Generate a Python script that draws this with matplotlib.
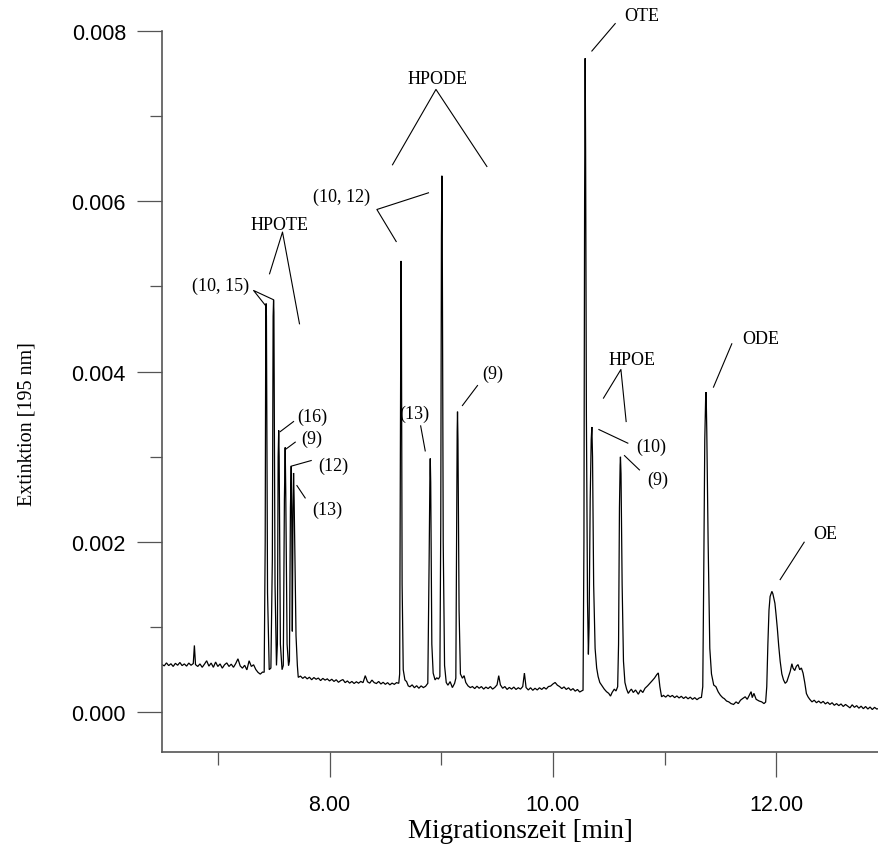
import matplotlib
matplotlib.use("Agg")
import matplotlib.pyplot as plt
from matplotlib.ticker import FormatStrFormatter

# ---------------------------------------------------------------------------
# Electropherogram trace: (migration time [min], extinction at 195 nm)
# ---------------------------------------------------------------------------
baseline_start = [
    (6.500, 0.000560), (6.520, 0.000545), (6.540, 0.000580), (6.560, 0.000548),
    (6.580, 0.000570), (6.600, 0.000538), (6.620, 0.000575), (6.640, 0.000552),
    (6.660, 0.000585), (6.680, 0.000548), (6.700, 0.000568), (6.720, 0.000542),
    (6.740, 0.000578), (6.760, 0.000552), (6.780, 0.000572), (6.790, 0.000785),
    (6.800, 0.000560), (6.820, 0.000538), (6.840, 0.000568), (6.860, 0.000528),
    (6.880, 0.000565), (6.900, 0.000605), (6.920, 0.000542), (6.940, 0.000578),
    (6.960, 0.000528), (6.980, 0.000590), (7.000, 0.000538), (7.020, 0.000568),
    (7.040, 0.000518), (7.060, 0.000558), (7.080, 0.000580), (7.100, 0.000538),
    (7.120, 0.000565), (7.140, 0.000528), (7.160, 0.000572), (7.180, 0.000628),
    (7.200, 0.000545), (7.220, 0.000518), (7.240, 0.000552), (7.260, 0.000498),
    (7.280, 0.000605), (7.300, 0.000538), (7.320, 0.000558), (7.340, 0.000502),
    (7.360, 0.000468), (7.380, 0.000448), (7.400, 0.000472),
]

hpote_group = [
    (7.415, 0.000470), (7.424, 0.002000), (7.429, 0.004600), (7.432, 0.004800),
    (7.435, 0.004650), (7.445, 0.001400), (7.460, 0.000500), (7.475, 0.000520),
    (7.488, 0.001800), (7.495, 0.004650), (7.499, 0.004840), (7.502, 0.004700),
    (7.512, 0.001500), (7.525, 0.000550), (7.533, 0.000800), (7.540, 0.003000),
    (7.545, 0.003310), (7.549, 0.003000), (7.560, 0.000800), (7.575, 0.000500),
    (7.586, 0.000550), (7.596, 0.002500), (7.603, 0.003110), (7.608, 0.002600),
    (7.620, 0.000800), (7.633, 0.000550), (7.641, 0.000600), (7.650, 0.002400),
    (7.657, 0.002890), (7.662, 0.002200), (7.667, 0.000950), (7.673, 0.002400),
    (7.678, 0.002810), (7.683, 0.002500), (7.700, 0.000900), (7.712, 0.000550),
    (7.720, 0.000410),
]

baseline_mid1 = [
    (7.740, 0.000425), (7.760, 0.000398), (7.780, 0.000418), (7.800, 0.000392),
    (7.820, 0.000412), (7.840, 0.000382), (7.860, 0.000408), (7.880, 0.000388),
    (7.900, 0.000402), (7.920, 0.000372), (7.940, 0.000398), (7.960, 0.000378),
    (7.980, 0.000392), (8.000, 0.000368), (8.020, 0.000388), (8.040, 0.000362),
    (8.060, 0.000382), (8.080, 0.000352), (8.100, 0.000372), (8.120, 0.000384),
    (8.140, 0.000348), (8.160, 0.000368), (8.180, 0.000342), (8.200, 0.000362),
    (8.220, 0.000338), (8.240, 0.000358), (8.260, 0.000342), (8.280, 0.000362),
    (8.300, 0.000348), (8.320, 0.000430), (8.340, 0.000358), (8.360, 0.000342),
    (8.380, 0.000378), (8.400, 0.000348), (8.420, 0.000338), (8.440, 0.000362),
    (8.460, 0.000332), (8.480, 0.000352), (8.500, 0.000328), (8.520, 0.000348),
    (8.540, 0.000322), (8.560, 0.000342), (8.580, 0.000328), (8.600, 0.000348),
    (8.620, 0.000340),
]

hpode_group = [
    (8.628, 0.000450), (8.634, 0.003000), (8.638, 0.005100), (8.640, 0.005300),
    (8.643, 0.005000), (8.650, 0.001500), (8.660, 0.000500), (8.675, 0.000380),
    (8.690, 0.000360), (8.705, 0.000310), (8.720, 0.000300), (8.740, 0.000322),
    (8.760, 0.000288), (8.780, 0.000312), (8.800, 0.000282), (8.820, 0.000310),
    (8.840, 0.000290), (8.860, 0.000305), (8.880, 0.000340), (8.892, 0.001800),
    (8.899, 0.002800), (8.902, 0.002980), (8.906, 0.002700), (8.916, 0.000800),
    (8.928, 0.000460), (8.945, 0.000380), (8.960, 0.000405), (8.975, 0.000390),
    (8.988, 0.000420), (8.996, 0.002200), (9.002, 0.005600), (9.006, 0.006300),
    (9.009, 0.005800), (9.018, 0.002000), (9.030, 0.000550), (9.045, 0.000350),
    (9.060, 0.000318), (9.080, 0.000360), (9.100, 0.000290), (9.120, 0.000340),
    (9.131, 0.000400), (9.138, 0.002000), (9.143, 0.003300), (9.146, 0.003530),
    (9.150, 0.003200), (9.160, 0.001200), (9.172, 0.000450), (9.190, 0.000400),
    (9.205, 0.000430), (9.220, 0.000350), (9.240, 0.000310), (9.260, 0.000290),
]

baseline_mid2 = [
    (9.280, 0.000302), (9.300, 0.000278), (9.320, 0.000306), (9.340, 0.000282),
    (9.360, 0.000302), (9.380, 0.000272), (9.400, 0.000296), (9.420, 0.000278),
    (9.440, 0.000302), (9.460, 0.000272), (9.480, 0.000292), (9.500, 0.000322),
    (9.515, 0.000430), (9.530, 0.000322), (9.550, 0.000282), (9.570, 0.000302),
    (9.590, 0.000268), (9.610, 0.000292), (9.630, 0.000272), (9.650, 0.000296),
    (9.670, 0.000268), (9.690, 0.000288), (9.710, 0.000272), (9.730, 0.000302),
    (9.745, 0.000460), (9.760, 0.000290), (9.780, 0.000262), (9.800, 0.000288),
    (9.820, 0.000258), (9.840, 0.000282), (9.860, 0.000262), (9.880, 0.000288),
    (9.900, 0.000268), (9.920, 0.000292), (9.940, 0.000272), (9.960, 0.000302),
    (9.980, 0.000308), (10.000, 0.000332), (10.020, 0.000350), (10.040, 0.000318),
    (10.060, 0.000302), (10.080, 0.000278), (10.100, 0.000298), (10.120, 0.000268),
    (10.140, 0.000288), (10.160, 0.000258), (10.180, 0.000278), (10.200, 0.000248),
    (10.220, 0.000268), (10.240, 0.000238), (10.260, 0.000252),
]

ote_hpoe_group = [
    (10.270, 0.000260), (10.278, 0.002000), (10.284, 0.006000), (10.289, 0.007680),
    (10.293, 0.006600), (10.300, 0.003500), (10.310, 0.001300), (10.318, 0.000680),
    (10.324, 0.001000), (10.334, 0.002500), (10.343, 0.003200), (10.349, 0.003350),
    (10.355, 0.003000), (10.365, 0.001500), (10.378, 0.000750), (10.392, 0.000520),
    (10.405, 0.000420), (10.420, 0.000350), (10.440, 0.000310), (10.460, 0.000272),
    (10.480, 0.000242), (10.500, 0.000222), (10.516, 0.000190), (10.530, 0.000232),
    (10.550, 0.000272), (10.565, 0.000250), (10.580, 0.000300), (10.588, 0.000800),
    (10.596, 0.002400), (10.602, 0.002900), (10.605, 0.003000), (10.610, 0.002800),
    (10.620, 0.001500), (10.632, 0.000600), (10.645, 0.000350), (10.660, 0.000272),
    (10.675, 0.000222), (10.690, 0.000252), (10.703, 0.000272), (10.720, 0.000232),
    (10.740, 0.000262), (10.765, 0.000212), (10.785, 0.000262), (10.805, 0.000232),
    (10.825, 0.000282), (10.849, 0.000312), (10.870, 0.000342), (10.890, 0.000372),
    (10.910, 0.000402), (10.930, 0.000442), (10.944, 0.000462), (10.958, 0.000300),
    (10.973, 0.000182),
]

baseline_late = [
    (10.990, 0.000198), (11.010, 0.000178), (11.030, 0.000202), (11.050, 0.000182),
    (11.070, 0.000198), (11.090, 0.000172), (11.110, 0.000192), (11.130, 0.000168),
    (11.150, 0.000188), (11.170, 0.000162), (11.190, 0.000182), (11.210, 0.000158),
    (11.230, 0.000178), (11.250, 0.000152), (11.270, 0.000172), (11.290, 0.000148),
    (11.310, 0.000168), (11.330, 0.000175),
]

ode_oe_group = [
    (11.342, 0.000300), (11.350, 0.001500), (11.360, 0.003200), (11.368, 0.003700),
    (11.372, 0.003760), (11.378, 0.003300), (11.390, 0.002000), (11.405, 0.000750),
    (11.420, 0.000450), (11.440, 0.000320), (11.460, 0.000300), (11.480, 0.000240),
    (11.500, 0.000200), (11.520, 0.000172), (11.535, 0.000160), (11.555, 0.000132),
    (11.575, 0.000122), (11.595, 0.000102), (11.618, 0.000092), (11.640, 0.000122),
    (11.660, 0.000102), (11.680, 0.000142), (11.700, 0.000162), (11.722, 0.000182),
    (11.740, 0.000152), (11.760, 0.000202), (11.775, 0.000242), (11.785, 0.000172),
    (11.800, 0.000222), (11.820, 0.000152), (11.847, 0.000132), (11.870, 0.000122),
    (11.890, 0.000102), (11.905, 0.000120), (11.915, 0.000300), (11.925, 0.000800),
    (11.935, 0.001200), (11.945, 0.001360), (11.955, 0.001400), (11.961, 0.001420),
    (11.970, 0.001390), (11.978, 0.001340), (11.988, 0.001280), (11.998, 0.001150),
    (12.010, 0.000980), (12.022, 0.000780), (12.035, 0.000600), (12.050, 0.000450),
    (12.065, 0.000380), (12.080, 0.000340), (12.095, 0.000360), (12.110, 0.000420),
    (12.125, 0.000480), (12.140, 0.000570), (12.150, 0.000520), (12.165, 0.000490),
    (12.180, 0.000540), (12.195, 0.000560), (12.210, 0.000500), (12.225, 0.000520),
    (12.240, 0.000460), (12.255, 0.000350), (12.270, 0.000220), (12.285, 0.000180),
]

baseline_end = [
    (12.300, 0.000152), (12.320, 0.000122), (12.340, 0.000142), (12.360, 0.000112),
    (12.380, 0.000132), (12.400, 0.000108), (12.420, 0.000128), (12.440, 0.000098),
    (12.460, 0.000118), (12.480, 0.000092), (12.500, 0.000112), (12.520, 0.000082),
    (12.540, 0.000102), (12.560, 0.000078), (12.580, 0.000098), (12.600, 0.000068),
    (12.620, 0.000092), (12.640, 0.000072), (12.660, 0.000052), (12.680, 0.000088),
    (12.700, 0.000058), (12.720, 0.000078), (12.740, 0.000048), (12.760, 0.000072),
    (12.780, 0.000042), (12.800, 0.000068), (12.820, 0.000038), (12.840, 0.000062),
    (12.860, 0.000032), (12.880, 0.000058), (12.900, 0.000038), (12.920, 0.000045),
]

segments = [baseline_start, hpote_group, baseline_mid1, hpode_group,
            baseline_mid2, ote_hpoe_group, baseline_late, ode_oe_group,
            baseline_end]
trace = [p for seg in segments for p in seg]
time_min = [p[0] for p in trace]
extinction = [p[1] for p in trace]

# Axis ticks
x_major = [8.0, 10.0, 12.0]
x_minor = [7.0, 9.0, 11.0]
y_major = [0.000, 0.002, 0.004, 0.006, 0.008]
y_minor = [0.001, 0.003, 0.005, 0.007]

# ---------------------------------------------------------------------------
# Peak labels: text, text position, leader lines (data coordinates)
# ---------------------------------------------------------------------------
peak_labels = [
    ("HPOTE", (7.550, 0.005730)),
    ("(10, 15)", (7.021, 0.005011)),
    ("(16)", (7.850, 0.003475)),
    ("(9)", (7.842, 0.003211)),
    ("(12)", (8.033, 0.002897)),
    ("(13)", (7.977, 0.002388)),
    ("HPODE", (8.964, 0.007443)),
    ("(10, 12)", (8.105, 0.006053)),
    ("(13)", (8.758, 0.003516)),
    ("(9)", (9.465, 0.003983)),
    ("OTE", (10.797, 0.008183)),
    ("HPOE", (10.707, 0.004139)),
    ("(10)", (10.883, 0.003117)),
    ("(9)", (10.943, 0.002741)),
    ("ODE", (11.859, 0.004394)),
    ("OE", (12.438, 0.002095)),
]

leader_lines = [
    [(7.463, 0.005149), (7.579, 0.005639), (7.731, 0.004562)],   # HPOTE
    [(7.424, 0.004781), (7.320, 0.004953), (7.499, 0.004844)],   # (10, 15)
    [(7.559, 0.003296), (7.678, 0.003414)],                      # (16)
    [(7.612, 0.003093), (7.693, 0.003172)],                      # (9)
    [(7.657, 0.002890), (7.836, 0.002956)],                      # (12)
    [(7.708, 0.002662), (7.782, 0.002517)],                      # (13)
    [(8.564, 0.006429), (8.953, 0.007314), (9.409, 0.006409)],   # HPODE
    [(8.886, 0.006100), (8.424, 0.005904), (8.597, 0.005528)],   # (10, 12)
    [(8.816, 0.003363), (8.857, 0.003069)],                      # (13)
    [(9.190, 0.003602), (9.325, 0.003837)],                      # (9)
    [(10.349, 0.007765), (10.558, 0.008087)],                    # OTE
    [(10.453, 0.003689), (10.609, 0.004025), (10.656, 0.003414)],  # HPOE
    [(10.412, 0.003320), (10.671, 0.003160)],                    # (10)
    [(10.641, 0.003014), (10.775, 0.002846)],                    # (9)
    [(11.438, 0.003818), (11.602, 0.004327)],                    # ODE
    [(12.035, 0.001558), (12.250, 0.001997)],                    # OE
]

# ---------------------------------------------------------------------------
W, H = 879, 845
fig = plt.figure(figsize=(W / 100, H / 100), dpi=100)
ax = fig.add_axes([162 / W, 1 - 753.3 / H, (W - 162) / W, (753.3 - 32) / H])

ax.plot(time_min, extinction, color="black", lw=0.9, solid_joinstyle="miter")

ax.set_xlim(6.5, 12.92)
ax.set_ylim(-0.00047, 0.008)

axis_grey = "#555555"
for side in ("top", "right"):
    ax.spines[side].set_visible(False)
for side in ("left", "bottom"):
    ax.spines[side].set_color(axis_grey)
    ax.spines[side].set_linewidth(1.2)

ax.set_xticks(x_major)
ax.set_xticks(x_minor, minor=True)
ax.set_yticks(y_major)
ax.set_yticks(y_minor, minor=True)
ax.xaxis.set_major_formatter(FormatStrFormatter("%.2f"))
ax.yaxis.set_major_formatter(FormatStrFormatter("%.3f"))

tick_font = "Liberation Sans"
ax.tick_params(which="major", direction="out", length=18, width=0.9,
               color=axis_grey, labelsize=15.5)
ax.tick_params(which="minor", direction="out", length=9, width=0.9,
               color=axis_grey)
ax.tick_params(axis="x", which="major", pad=12)
ax.tick_params(axis="y", which="major", pad=8)
for lab in ax.get_xticklabels() + ax.get_yticklabels():
    lab.set_fontfamily(tick_font)

serif = "Liberation Serif"
ax.set_xlabel("Migrationszeit [min]", fontfamily=serif, fontsize=19.5,
              labelpad=2)
ax.set_ylabel("Extinktion [195 nm]", fontfamily=serif, fontsize=14.5)
ax.yaxis.set_label_coords(-0.175, 0.4565)

for text, (tx, ty) in peak_labels:
    ax.text(tx, ty, text, fontfamily=serif, fontsize=13, ha="center",
            va="center", clip_on=False)

for pts in leader_lines:
    xs = [p[0] for p in pts]
    ys = [p[1] for p in pts]
    ax.plot(xs, ys, color="black", lw=0.8, clip_on=False)

fig.savefig("out.png", dpi=100)
